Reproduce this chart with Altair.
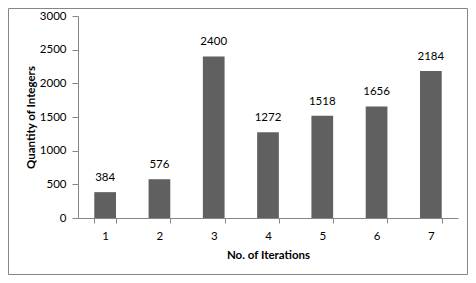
import altair as alt
import pandas as pd

iterations = ["1", "2", "3", "4", "5", "6", "7"]
quantities = [384, 576, 2400, 1272, 1518, 1656, 2184]
y_ticks = [0, 500, 1000, 1500, 2000, 2500, 3000]

df = pd.DataFrame({"iter": iterations, "qty": quantities})

FONT = "Lato"
GRAY = "#868686"
FS = 11.5

x = alt.X("iter:N", sort=iterations, title="No. of Iterations",
          scale=alt.Scale(paddingInner=0.6, paddingOuter=0.3),
          axis=alt.Axis(labelAngle=0, tickBand="extent", tickSize=5, labelPadding=7,
                        domainColor=GRAY, tickColor=GRAY, labelFontSize=FS,
                        labelColor="#000", titleFontSize=FS, titleFontWeight="bold",
                        titleColor="#000", titlePadding=8, labelFont=FONT, titleFont=FONT))
y = alt.Y("qty:Q", title="Quantity of Integers",
          scale=alt.Scale(domain=[0, 3000]),
          axis=alt.Axis(values=y_ticks, format="d", labelOverlap=False, grid=False,
                        tickSize=6, labelPadding=6, domainColor=GRAY, tickColor=GRAY,
                        labelFontSize=FS, labelColor="#000", titleFontSize=FS,
                        titleFontWeight="bold", titleColor="#000", titlePadding=3,
                        labelFont=FONT, titleFont=FONT))

bars = alt.Chart(df).mark_bar(color="#606060").encode(x=x, y=y)
labels = alt.Chart(df).mark_text(dy=-14, fontSize=FS, font=FONT, color="#000").encode(
    x=x, y=y, text=alt.Text("qty:Q", format="d"))

border = alt.Chart(pd.DataFrame({"a": [0]})).mark_rect(
    fill=None, stroke=GRAY, strokeWidth=1).encode(
    x=alt.value(-69.5), x2=alt.value(389.5), y=alt.value(-7.5), y2=alt.value(258.5))

chart = alt.layer(bars, labels, border).properties(
    width=380, height=202,
    autosize=alt.AutoSizeParams(type="none"),
    padding={"left": 70, "top": 8, "right": 10, "bottom": 57},
).configure_view(stroke=None)

chart.save("out.html", embed_options={"renderer": "svg", "actions": False})
